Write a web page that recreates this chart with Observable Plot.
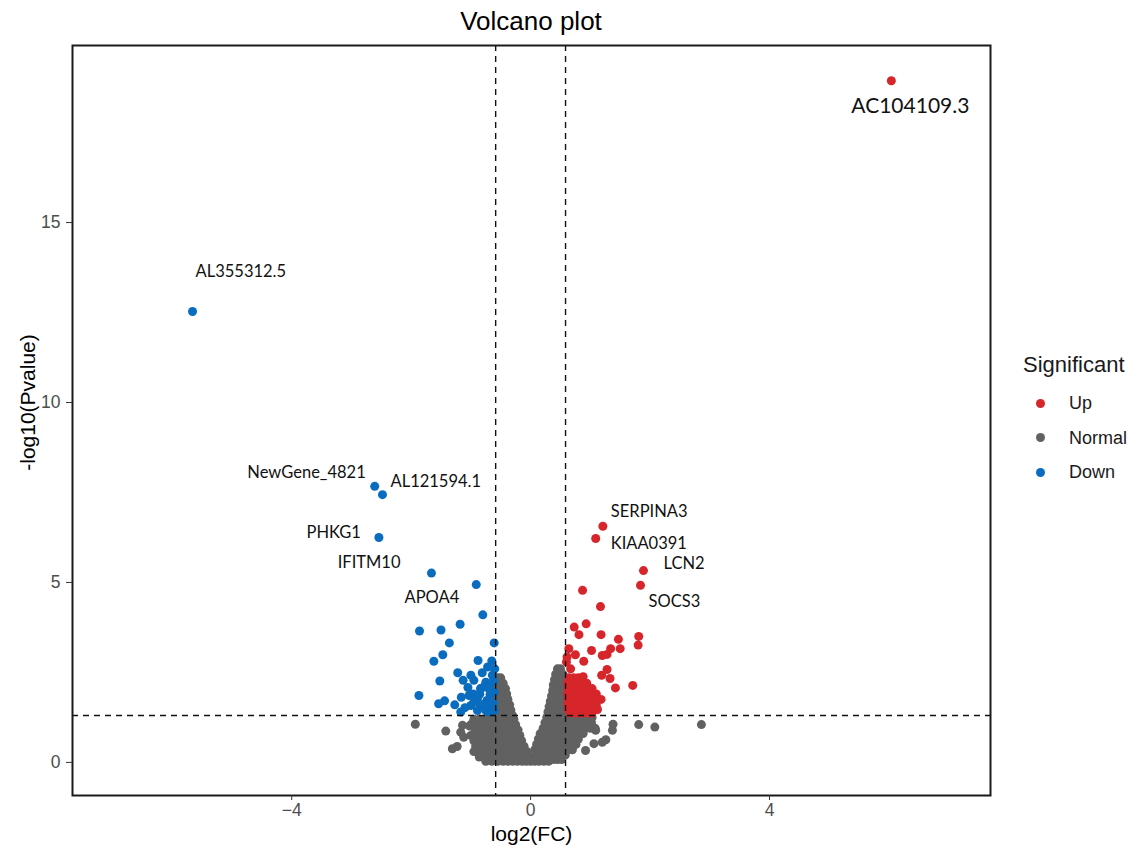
<!DOCTYPE html>
<html><head><meta charset="utf-8">
<script src="https://cdn.jsdelivr.net/npm/d3@7"></script>
<script src="https://cdn.jsdelivr.net/npm/@observablehq/plot@0.6"></script>
<style>
body{margin:0;background:#fff;}
#wrap{position:relative;width:1137px;height:852px;font-family:"Liberation Sans",Arial,sans-serif;}
#title{position:absolute;left:72px;width:918px;top:6px;text-align:center;font-size:26px;line-height:30px;color:#000;}
#chart{position:absolute;left:0;top:0;}
.lg{position:absolute;color:#1a1a1a;}
.lgt{font-size:22px;line-height:24px;}
.lgi{font-size:18px;line-height:20px;}
.dot{position:absolute;width:9px;height:9px;border-radius:50%;}
</style></head>
<body>
<div id="wrap">
  <div id="chart"></div>
  <div id="title">Volcano plot</div>
</div>
<script>
// ---- data ----
const groups = ["Up", "Normal", "Down"];
const groupColors = ["#d7262b", "#616161", "#0a6cbf"];
const fcCut = 0.585;     // |log2(FC)| threshold
const pCut = 1.301;      // -log10(0.05)
const xTicks = [-4, 0, 4];
const yTicks = [0, 5, 10, 15];

const upLabeled = [
  ["AC104109.3", 6.04, 18.94], ["SERPINA3", 1.21, 6.56], ["KIAA0391", 1.09, 6.22],
  ["LCN2", 1.89, 5.33], ["SOCS3", 1.84, 4.92]
];
const downLabeled = [
  ["AL355312.5", -5.66, 12.53], ["NewGene_4821", -2.61, 7.67], ["AL121594.1", -2.48, 7.44],
  ["PHKG1", -2.54, 6.25], ["IFITM10", -1.66, 5.26], ["APOA4", -0.91, 4.94]
];
const upOther = [
  [0.87,4.78],[1.17,4.33],[0.73,3.76],[0.93,3.85],[0.81,3.55],[1.18,3.55],[1.47,3.42],[1.81,3.5],
  [1.80,3.26],[1.34,3.16],[1.50,3.16],[1.02,3.11],[0.64,3.16],[0.61,2.93],[0.75,2.99],[0.89,2.81],
  [1.20,2.97],[1.28,3.0],[0.60,2.79],[0.67,2.60],[1.28,2.58],[1.19,2.42],[1.33,2.33],[1.71,2.14],[1.42,2.07],
  [0.64,2.35],[0.72,2.35],[0.80,2.35],[0.88,2.38],
  [0.62,2.2],[0.70,2.2],[0.78,2.2],[0.86,2.2],[0.94,2.2],
  [0.63,2.05],[0.71,2.05],[0.79,2.05],[0.87,2.05],[0.95,2.05],[1.03,2.05],
  [0.62,1.9],[0.70,1.9],[0.78,1.9],[0.86,1.9],[0.94,1.9],[1.02,1.9],[1.10,1.9],
  [0.63,1.75],[0.71,1.75],[0.79,1.75],[0.87,1.75],[0.95,1.75],[1.03,1.75],[1.11,1.75],[1.18,1.75],
  [0.62,1.6],[0.70,1.6],[0.78,1.6],[0.86,1.6],[0.94,1.6],[1.02,1.6],[1.10,1.6],
  [0.63,1.47],[0.71,1.47],[0.79,1.47],[0.87,1.47],[0.95,1.47],[1.03,1.47],[1.12,1.47],
  [0.66,1.37],[0.74,1.37],[0.82,1.37],[0.90,1.37],[0.98,1.37],[1.03,1.37]
];
const downOther = [
  [-0.80,4.10],[-1.86,3.65],[-1.50,3.68],[-1.18,3.84],[-1.36,3.32],[-0.61,3.32],[-1.47,2.99],[-1.62,2.81],
  [-0.88,2.83],[-0.65,2.82],[-0.72,2.65],[-1.22,2.49],[-1.52,2.26],[-1.00,2.42],[-0.81,2.49],[-1.13,2.28],
  [-0.95,2.28],[-0.75,2.23],[-1.05,2.08],[-0.84,2.05],[-1.87,1.86],[-1.44,1.71],[-1.54,1.63],[-1.27,1.60],
  [-1.16,1.81],[-1.03,1.86],[-0.89,1.77],[-0.73,1.72],[-1.00,1.58],[-0.84,1.56],[-0.67,1.54],[-0.61,1.95],
  [-0.67,2.19],[-0.89,1.44],[-0.75,1.44],[-0.61,1.44],[-0.79,2.09],[-0.64,2.42],
  [-0.70,1.40],[-0.78,1.62],[-0.95,1.68],[-1.10,1.52],[-0.62,1.64],[-0.68,1.88],[-0.60,2.6],[-0.62,2.25],
  [-1.17,1.40],[-0.96,1.90],[-0.85,1.90],[-0.70,2.05]
];
const normalGenes = [
  [-0.55,2.35],[-0.50,2.35],
  [-0.56,2.2],[-0.50,2.2],[-0.46,2.2],
  [-0.57,2.05],[-0.51,2.05],[-0.45,2.05],[-0.42,2.05],
  [-0.57,1.9],[-0.50,1.9],[-0.44,1.9],[-0.40,1.9],
  [-0.58,1.75],[-0.51,1.75],[-0.44,1.75],[-0.38,1.75],
  [-0.58,1.6],[-0.51,1.6],[-0.44,1.6],[-0.38,1.6],[-0.35,1.6],
  [-0.59,1.45],[-0.52,1.45],[-0.45,1.45],[-0.38,1.45],[-0.33,1.45],
  [-0.62,1.3],[-0.55,1.3],[-0.48,1.3],[-0.41,1.3],[-0.35,1.3],[-0.30,1.3],
  [-0.95,1.2],[-0.86,1.2],[-0.78,1.2],[-0.70,1.2],[-0.62,1.2],[-0.55,1.2],[-0.48,1.2],[-0.41,1.2],[-0.34,1.2],[-0.28,1.2],
  [-1.00,1.05],[-0.90,1.05],[-0.82,1.05],[-0.74,1.05],[-0.66,1.05],[-0.58,1.05],[-0.50,1.05],[-0.43,1.05],[-0.36,1.05],[-0.30,1.05],[-0.25,1.05],
  [-0.93,0.9],[-0.85,0.9],[-0.77,0.9],[-0.69,0.9],[-0.61,0.9],[-0.53,0.9],[-0.46,0.9],[-0.39,0.9],[-0.32,0.9],[-0.26,0.9],[-0.21,0.9],
  [-1.00,0.75],[-0.90,0.75],[-0.82,0.75],[-0.74,0.75],[-0.66,0.75],[-0.58,0.75],[-0.50,0.75],[-0.43,0.75],[-0.36,0.75],[-0.29,0.75],[-0.23,0.75],[-0.18,0.75],
  [-0.95,0.6],[-0.86,0.6],[-0.78,0.6],[-0.70,0.6],[-0.62,0.6],[-0.54,0.6],[-0.47,0.6],[-0.40,0.6],[-0.33,0.6],[-0.26,0.6],[-0.20,0.6],[-0.15,0.6],
  [-0.92,0.45],[-0.84,0.45],[-0.76,0.45],[-0.68,0.45],[-0.60,0.45],[-0.52,0.45],[-0.45,0.45],[-0.38,0.45],[-0.31,0.45],[-0.24,0.45],[-0.17,0.45],[-0.11,0.45],
  [-0.95,0.3],[-0.87,0.3],[-0.79,0.3],[-0.71,0.3],[-0.63,0.3],[-0.55,0.3],[-0.47,0.3],[-0.40,0.3],[-0.33,0.3],[-0.26,0.3],[-0.19,0.3],[-0.12,0.3],[-0.06,0.3],
  [-0.86,0.15],[-0.78,0.15],[-0.70,0.15],[-0.62,0.15],[-0.54,0.15],[-0.46,0.15],[-0.39,0.15],[-0.32,0.15],[-0.25,0.15],[-0.18,0.15],[-0.11,0.15],[-0.04,0.15],[0.03,0.15],[0.10,0.15],
  [-0.75,0.03],[-0.65,0.03],[-0.55,0.03],[-0.46,0.03],[-0.38,0.03],[-0.30,0.03],[-0.22,0.03],[-0.14,0.03],[-0.07,0.03],[0.00,0.03],[0.07,0.03],[0.14,0.03],[0.22,0.03],[0.30,0.03],
  [0.45,2.6],[0.50,2.6],
  [0.42,2.45],[0.48,2.45],[0.54,2.45],
  [0.40,2.3],[0.46,2.3],[0.52,2.3],[0.57,2.3],
  [0.38,2.15],[0.44,2.15],[0.50,2.15],[0.56,2.15],
  [0.37,2.0],[0.43,2.0],[0.49,2.0],[0.55,2.0],
  [0.35,1.85],[0.41,1.85],[0.47,1.85],[0.53,1.85],[0.57,1.85],
  [0.33,1.7],[0.39,1.7],[0.45,1.7],[0.51,1.7],[0.57,1.7],
  [0.31,1.55],[0.37,1.55],[0.43,1.55],[0.49,1.55],[0.55,1.55],
  [0.29,1.4],[0.35,1.4],[0.41,1.4],[0.47,1.4],[0.53,1.4],[0.58,1.4],
  [0.27,1.25],[0.33,1.25],[0.39,1.25],[0.45,1.25],[0.51,1.25],[0.57,1.25],[0.64,1.25],[0.72,1.25],[0.80,1.25],[0.88,1.25],[0.96,1.25],[1.03,1.25],
  [0.24,1.1],[0.30,1.1],[0.36,1.1],[0.42,1.1],[0.48,1.1],[0.55,1.1],[0.62,1.1],[0.70,1.1],[0.78,1.1],[0.86,1.1],[0.94,1.1],[1.02,1.1],
  [0.21,0.95],[0.27,0.95],[0.33,0.95],[0.40,0.95],[0.47,0.95],[0.54,0.95],[0.61,0.95],[0.68,0.95],[0.76,0.95],[0.84,0.95],[0.92,0.95],[1.00,0.95],[1.08,0.95],
  [0.16,0.8],[0.23,0.8],[0.30,0.8],[0.37,0.8],[0.44,0.8],[0.51,0.8],[0.58,0.8],[0.65,0.8],[0.72,0.8],[0.80,0.8],[0.88,0.8],
  [0.13,0.65],[0.20,0.65],[0.27,0.65],[0.34,0.65],[0.41,0.65],[0.48,0.65],[0.55,0.65],[0.62,0.65],[0.70,0.65],[0.80,0.65],
  [0.10,0.5],[0.17,0.5],[0.24,0.5],[0.31,0.5],[0.38,0.5],[0.45,0.5],[0.52,0.5],[0.59,0.5],[0.67,0.5],[0.76,0.5],
  [0.07,0.35],[0.14,0.35],[0.21,0.35],[0.28,0.35],[0.35,0.35],[0.42,0.35],[0.49,0.35],[0.56,0.35],[0.63,0.35],[0.70,0.35],
  [0.17,0.2],[0.24,0.2],[0.31,0.2],[0.38,0.2],[0.45,0.2],[0.52,0.2],[0.58,0.2],
  [0.38,0.08],[0.45,0.08],[0.52,0.08],
  [-1.93,1.06],[-1.42,0.87],[-1.17,0.84],[-1.31,0.38],[-1.23,0.44],[-1.12,0.70],[-1.14,1.03],[-1.02,1.01],
  [1.81,1.05],[2.08,0.98],[2.86,1.05],[1.09,0.89],[1.38,1.06],[1.37,0.89],[1.26,0.63],[1.20,0.56],[0.92,0.33],[1.06,0.52]
];

// label styling (offsets in pixels, not data)
const labelStyle = {
  "AC104109.3": {dx: 19, dy: 25, anchor: "middle", size: 21},
  "AL355312.5": {dx: 3, dy: -40, anchor: "start", size: 16.5},
  "NewGene_4821": {dx: -9, dy: -14, anchor: "end", size: 16.5},
  "AL121594.1": {dx: 8, dy: -13, anchor: "start", size: 16.5},
  "PHKG1": {dx: -18, dy: -5, anchor: "end", size: 16.5},
  "IFITM10": {dx: -31, dy: -10, anchor: "end", size: 16.5},
  "APOA4": {dx: -17, dy: 13, anchor: "end", size: 16.5},
  "SERPINA3": {dx: 8, dy: -15, anchor: "start", size: 16.5},
  "KIAA0391": {dx: 15, dy: 5, anchor: "start", size: 16.5},
  "LCN2": {dx: 20, dy: -7, anchor: "start", size: 16.5},
  "SOCS3": {dx: 8, dy: 16, anchor: "start", size: 16.5}
};

// ---- build table ----
const rows = [];
normalGenes.forEach(([x, y]) => rows.push({x, y, g: "Normal"}));
downOther.forEach(([x, y]) => rows.push({x, y, g: "Down"}));
downLabeled.forEach(([name, x, y]) => rows.push({x, y, g: "Down", name}));
upOther.forEach(([x, y]) => rows.push({x, y, g: "Up"}));
upLabeled.forEach(([name, x, y]) => rows.push({x, y, g: "Up", name}));

const labelMarks = [...upLabeled, ...downLabeled].map(([name, x, y]) => {
  const s = labelStyle[name];
  return Plot.text([{name, x, y}], {
    x: "x", y: "y", text: "name", dx: s.dx, dy: s.dy, textAnchor: s.anchor,
    fontSize: s.size, fontFamily: "Lato, 'Open Sans', sans-serif", fill: "#111"
  });
});

const chart = Plot.plot({
  width: 1137, height: 852,
  marginLeft: 72, marginRight: 147, marginTop: 45, marginBottom: 57,
  style: {fontFamily: "'Liberation Sans', Arial, sans-serif", fontSize: "17px", background: "#fff"},
  x: {domain: [-7.67, 7.70]},
  y: {domain: [-0.92, 19.92]},
  color: {domain: groups, range: groupColors},
  marks: [
    Plot.dot(rows, {x: "x", y: "y", fill: "g", r: 4.5, stroke: null}),
    Plot.ruleX([-fcCut, fcCut], {stroke: "#111", strokeWidth: 1.4, strokeDasharray: "6,5"}),
    Plot.ruleY([pCut], {stroke: "#111", strokeWidth: 1.4, strokeDasharray: "6,5"}),
    ...labelMarks,
    Plot.frame({stroke: "#1a1a1a", strokeWidth: 2}),
    Plot.axisX({ticks: xTicks, tickSize: 5, tickPadding: 3, fontSize: 17.5, stroke: "#333", fill: "#4d4d4d", label: null}),
    Plot.axisY({ticks: yTicks, tickSize: 6, tickPadding: 6, fontSize: 17.5, stroke: "#333", fill: "#4d4d4d", label: null}),
    Plot.text(["log2(FC)"], {frameAnchor: "bottom", lineAnchor: "middle", dy: 39, fontSize: 21, fill: "#000"}),
    Plot.text(["-log10(Pvalue)"], {frameAnchor: "left", textAnchor: "middle", lineAnchor: "middle", dx: -44, dy: -18, rotate: -90, fontSize: 21, fill: "#000"})
  ]
});
document.getElementById("chart").appendChild(chart);

// ---- legend (HTML) ----
const wrap = document.getElementById("wrap");
const t = document.createElement("div");
t.className = "lg lgt"; t.textContent = "Significant";
t.style.left = "1023px"; t.style.top = "353px";
wrap.appendChild(t);
groups.forEach((g, i) => {
  const cy = 403 + i * 34.5;
  const d = document.createElement("div");
  d.className = "dot"; d.style.background = groupColors[i];
  d.style.left = (1040 - 4.5) + "px"; d.style.top = (cy - 4.5) + "px";
  wrap.appendChild(d);
  const l = document.createElement("div");
  l.className = "lg lgi"; l.textContent = g;
  l.style.left = "1069px"; l.style.top = (cy - 10) + "px";
  wrap.appendChild(l);
});
</script>
</body></html>
